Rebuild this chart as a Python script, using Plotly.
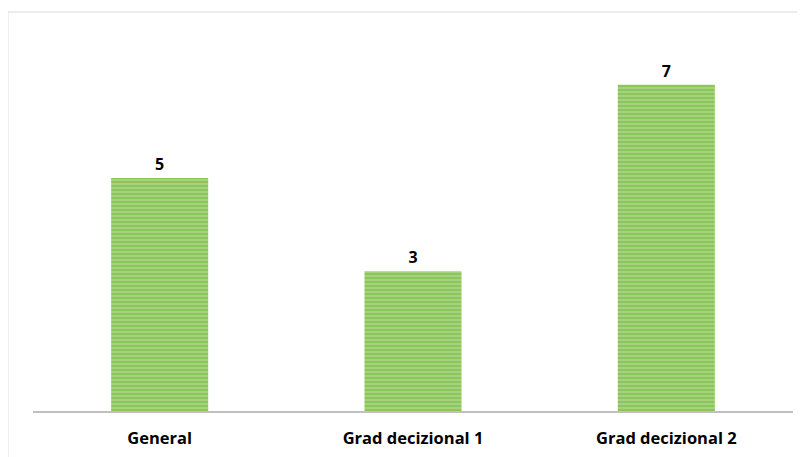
import plotly.graph_objects as go

categories = ["General", "Grad decizional 1", "Grad decizional 2"]
values = [5, 3, 7]

fig = go.Figure()
fig.add_trace(go.Bar(
    x=categories,
    y=values,
    width=0.383,
    text=[str(v) for v in values],
    textposition="outside",
    textfont=dict(family="Open Sans", size=16, color="#000000", weight="bold"),
    cliponaxis=False,
    marker=dict(
        color="#8cc55a",
        line=dict(width=0),
        pattern=dict(shape="-", bgcolor="#8cc55a", fgcolor="#d2e9c0",
                     size=4, solidity=0.35, fillmode="overlay"),
    ),
))

fig.update_layout(
    width=805, height=457,
    margin=dict(l=25, r=20, t=30, b=54),
    paper_bgcolor="white", plot_bgcolor="white",
    showlegend=False,
    xaxis=dict(
        range=[-0.5, 2.5],
        showline=True, linecolor="#c0c0c0", linewidth=2,
        showgrid=False, ticks="",
        ticklabelstandoff=11,
        tickfont=dict(family="Open Sans", size=16.5, color="#000000", weight="bold"),
    ),
    yaxis=dict(range=[0, 8], visible=False),
    shapes=[dict(
        type="rect", xref="paper", yref="paper",
        x0=-0.033, x1=1.08, y0=-0.3, y1=1.0697,
        line=dict(color="#d9d9d9", width=1), layer="below",
    )],
)

fig.write_html("out.html")
